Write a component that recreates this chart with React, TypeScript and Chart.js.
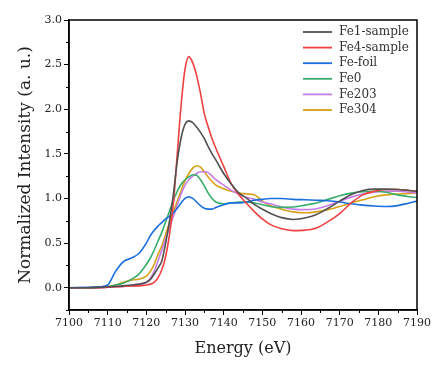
import React, { useEffect, useRef } from 'react';
import { Chart, registerables } from 'chart.js';

Chart.register(...registerables);

const energy = [
  7100, 7105, 7108, 7110, 7112, 7114, 7116, 7118, 7120, 7121,
  7122, 7123, 7124, 7125, 7126, 7127, 7128, 7129, 7130, 7131,
  7132, 7133, 7134, 7135, 7136, 7137, 7138, 7140, 7142, 7144,
  7146, 7148, 7150, 7152, 7155, 7158, 7161, 7164, 7167, 7170,
  7173, 7176, 7179, 7182, 7185, 7188, 7190,
];

const fe1Sample = [
  0, 0, 0.005, 0.01, 0.015, 0.02, 0.03, 0.04, 0.06, 0.09,
  0.15, 0.22, 0.3, 0.5, 0.75, 1.05, 1.42, 1.68, 1.83, 1.87,
  1.85, 1.8, 1.74, 1.67, 1.58, 1.5, 1.43, 1.28, 1.16, 1.06,
  1.0, 0.93, 0.88, 0.835, 0.785, 0.765, 0.78, 0.82, 0.89, 0.97,
  1.045, 1.09, 1.105, 1.105, 1.1, 1.09, 1.08,
];

const fe4Sample = [
  0, 0, 0, 0.005, 0.01, 0.015, 0.02, 0.02, 0.03, 0.04,
  0.06, 0.11, 0.2, 0.35, 0.6, 0.95, 1.5, 2.05, 2.45, 2.59,
  2.52, 2.38, 2.18, 1.95, 1.8, 1.67, 1.56, 1.36, 1.16, 1.04,
  0.94, 0.85, 0.77, 0.71, 0.66, 0.64, 0.645, 0.67, 0.74, 0.83,
  0.95, 1.04, 1.08, 1.1, 1.1, 1.09, 1.08,
];

const feFoil = [
  0, 0.005, 0.01, 0.03, 0.18, 0.29, 0.33, 0.38, 0.5, 0.58,
  0.64, 0.69, 0.73, 0.77, 0.8, 0.84, 0.89, 0.95, 1.0, 1.02,
  1.0, 0.96, 0.92, 0.89, 0.88, 0.88, 0.9, 0.93, 0.95, 0.95,
  0.96, 0.98, 0.99, 1.0, 1.0, 0.99, 0.985, 0.98, 0.975, 0.96,
  0.94, 0.925, 0.915, 0.91, 0.92, 0.95, 0.97,
];

const fe0 = [
  0, 0, 0.005, 0.01, 0.03, 0.05, 0.09, 0.15, 0.26, 0.33,
  0.42, 0.52, 0.62, 0.74, 0.86, 0.98, 1.08, 1.16, 1.21, 1.24,
  1.265, 1.26, 1.21, 1.14, 1.06, 1.0, 0.96, 0.94, 0.95, 0.96,
  0.96, 0.95, 0.93, 0.91, 0.9, 0.905, 0.925, 0.95, 0.99, 1.03,
  1.06, 1.075, 1.08, 1.07, 1.04, 1.02, 1.01,
];

const fe2o3 = [
  0, 0, 0, 0.005, 0.01, 0.015, 0.02, 0.025, 0.06, 0.1,
  0.18, 0.3, 0.42, 0.55, 0.68, 0.8, 0.93, 1.05, 1.15, 1.21,
  1.25, 1.28, 1.3, 1.3, 1.29, 1.25, 1.21, 1.15, 1.09, 1.045,
  1.01, 0.99, 0.96, 0.94, 0.905, 0.88, 0.875, 0.885, 0.92, 0.97,
  1.015, 1.05, 1.07, 1.08, 1.08, 1.07, 1.06,
];

const fe3o4 = [
  0, 0, 0.005, 0.01, 0.03, 0.06, 0.085, 0.095, 0.13, 0.18,
  0.26, 0.37, 0.47, 0.6, 0.73, 0.85, 0.97, 1.09, 1.2, 1.28,
  1.34, 1.366, 1.35, 1.3, 1.24, 1.19, 1.15, 1.11, 1.08, 1.06,
  1.05, 1.04, 0.97, 0.92, 0.88, 0.85, 0.84, 0.85, 0.875, 0.91,
  0.95, 0.985, 1.02, 1.04, 1.05, 1.055, 1.06,
];

const seriesNames = ['Fe1-sample', 'Fe4-sample', 'Fe-foil', 'Fe0', 'Fe203', 'Fe304'];
const seriesValues = [fe1Sample, fe4Sample, feFoil, fe0, fe2o3, fe3o4];
const seriesColors = ['#515151', '#F14040', '#1A6FDF', '#37AD6B', '#C77CE8', '#D6A214'];

const xMajorTicks = [7100, 7110, 7120, 7130, 7140, 7150, 7160, 7170, 7180, 7190];
const xMinorTicks = [7105, 7115, 7125, 7135, 7145, 7155, 7165, 7175, 7185];
const yMajorTicks = [0, 0.5, 1.0, 1.5, 2.0, 2.5, 3.0];
const yMinorTicks = [-0.25, 0.25, 0.75, 1.25, 1.75, 2.25, 2.75];

const FONT = '"DejaVu Serif", "Liberation Serif", serif';

const framePlugin = {
  id: 'frameAndMinor',
  afterDraw(chart: any) {
    const { ctx, chartArea } = chart;
    const xs = chart.scales.x;
    const ys = chart.scales.y;
    ctx.save();
    ctx.strokeStyle = '#000';
    ctx.lineWidth = 1.5;
    ctx.beginPath();
    ctx.rect(chartArea.left, chartArea.top, chartArea.right - chartArea.left, chartArea.bottom - chartArea.top);
    ctx.stroke();
    ctx.lineWidth = 1;
    ctx.beginPath();
    xMinorTicks.forEach((v) => {
      const px = Math.round(xs.getPixelForValue(v)) + 0.5;
      ctx.moveTo(px, chartArea.bottom);
      ctx.lineTo(px, chartArea.bottom + 3);
    });
    yMinorTicks.forEach((v) => {
      const py = Math.round(ys.getPixelForValue(v)) + 0.5;
      ctx.moveTo(chartArea.left, py);
      ctx.lineTo(chartArea.left - 3, py);
    });
    ctx.stroke();
    ctx.restore();
  },
};

const legendPlugin = {
  id: 'customLegend',
  afterDraw(chart: any) {
    const { ctx } = chart;
    ctx.save();
    ctx.font = `12px ${FONT}`;
    ctx.textBaseline = 'middle';
    ctx.textAlign = 'left';
    chart.data.datasets.forEach((ds: any, i: number) => {
      const y = 32 + i * 15.6;
      ctx.strokeStyle = ds.borderColor;
      ctx.lineWidth = 1.8;
      ctx.beginPath();
      ctx.moveTo(303, y);
      ctx.lineTo(332, y);
      ctx.stroke();
      ctx.fillStyle = '#333';
      ctx.fillText(ds.label, 339, y);
    });
    ctx.restore();
  },
};

export default function App() {
  const canvasRef = useRef<HTMLCanvasElement | null>(null);

  useEffect(() => {
    if (!canvasRef.current) return;
    const chart = new Chart(canvasRef.current, {
      type: 'line',
      data: {
        datasets: seriesNames.map((name, i) => ({
          label: name,
          data: energy.map((e, j) => ({ x: e, y: seriesValues[i][j] })),
          borderColor: seriesColors[i],
          backgroundColor: seriesColors[i],
          borderWidth: 1.6,
          pointRadius: 0,
          cubicInterpolationMode: 'monotone' as const,
          fill: false,
        })),
      },
      options: {
        animation: false,
        responsive: true,
        maintainAspectRatio: false,
        layout: { padding: { left: 0, top: 20, right: 28, bottom: 0 } },
        plugins: {
          legend: { display: false },
          tooltip: { enabled: false },
        },
        scales: {
          x: {
            type: 'linear',
            min: 7100,
            max: 7190,
            afterBuildTicks: (scale: any) => {
              scale.ticks = xMajorTicks.map((v) => ({ value: v }));
            },
            afterFit: (scale: any) => {
              scale.height = 56;
            },
            grid: { drawOnChartArea: false, drawTicks: true, tickLength: 5, color: '#000', lineWidth: 1 },
            border: { display: true, color: '#000', width: 1.5 },
            ticks: {
              padding: 2,
              color: '#222',
              font: { family: FONT, size: 11 },
              maxRotation: 0,
              callback: (v: any) => String(v),
            },
            title: {
              display: true,
              text: 'Energy (eV)',
              color: '#222',
              font: { family: FONT, size: 16 },
              padding: { top: 0, bottom: 8 },
            },
          },
          y: {
            type: 'linear',
            min: -0.25,
            max: 3.0,
            afterBuildTicks: (scale: any) => {
              scale.ticks = yMajorTicks.map((v) => ({ value: v }));
            },
            afterFit: (scale: any) => {
              scale.width = 69;
            },
            grid: { drawOnChartArea: false, drawTicks: true, tickLength: 5, color: '#000', lineWidth: 1 },
            border: { display: true, color: '#000', width: 1.5 },
            ticks: {
              padding: 2,
              color: '#222',
              font: { family: FONT, size: 11 },
              callback: (v: any) => Number(v).toFixed(1),
            },
            title: {
              display: true,
              text: 'Normalized Intensity (a. u.)',
              color: '#222',
              font: { family: FONT, size: 17 },
              padding: { top: 15, bottom: 0 },
            },
          },
        },
      },
      plugins: [framePlugin, legendPlugin],
    });
    return () => chart.destroy();
  }, []);

  return (
    <div style={{ position: 'absolute', left: 0, top: 0, width: 445, height: 366 }}>
      <canvas ref={canvasRef} />
    </div>
  );
}
